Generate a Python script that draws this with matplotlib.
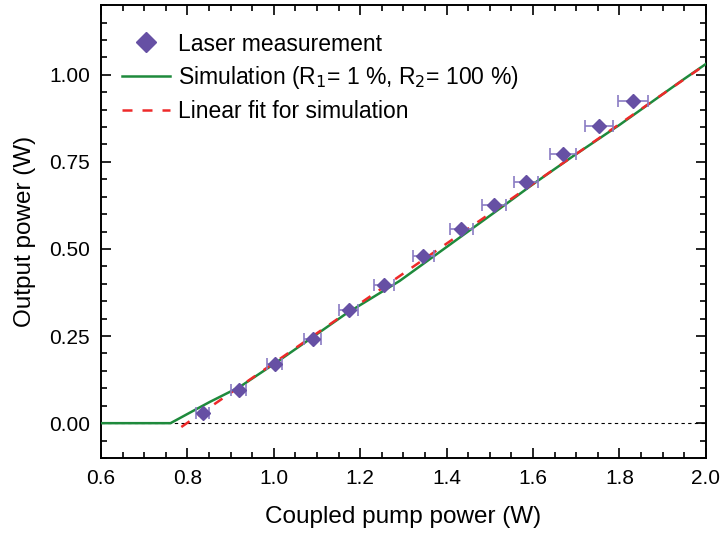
import matplotlib
matplotlib.use("Agg")
import matplotlib.pyplot as plt
from matplotlib.ticker import MultipleLocator, FormatStrFormatter

plt.rcParams['font.family'] = ['Liberation Sans', 'DejaVu Sans']

# Laser measurement data
meas_x = [0.836, 0.919, 1.002, 1.090, 1.173, 1.256, 1.346, 1.434, 1.510, 1.584, 1.670, 1.753, 1.831]
meas_y = [0.029, 0.095, 0.169, 0.241, 0.324, 0.398, 0.479, 0.556, 0.625, 0.691, 0.774, 0.854, 0.926]
meas_xerr = [0.015, 0.017, 0.018, 0.020, 0.021, 0.023, 0.024, 0.026, 0.027, 0.028, 0.030, 0.032, 0.034]

# Simulation (R1 = 1 %, R2 = 100 %)
sim_x = [0.6, 0.761, 0.813, 0.852, 0.921, 1.002, 1.090, 1.167, 1.291, 1.368, 1.522, 1.600, 1.691, 1.800, 1.944, 2.0]
sim_y = [0.0, 0.0, 0.035, 0.061, 0.104, 0.171, 0.247, 0.314, 0.408, 0.477, 0.615, 0.686, 0.765, 0.856, 0.983, 1.031]

# Linear fit for simulation (endpoints)
fit_x = [0.786, 2.0]
fit_y = [-0.011, 1.030]

fig = plt.figure(figsize=(7.21, 5.36), dpi=100)
ax = fig.add_axes([0.140, 0.1455, 0.839, 0.845])

ax.axhline(0, color='black', lw=0.8, ls=(0, (3, 3)), zorder=1)
ax.plot(sim_x, sim_y, color='#1e8a3c', lw=1.8, label='Simulation (R$_1$= 1 %, R$_2$= 100 %)', zorder=3)
ax.plot(fit_x, fit_y, color='#ee2a2a', lw=1.8, ls=(0, (4, 4)), label='Linear fit for simulation', zorder=4)
ax.errorbar(meas_x, meas_y, xerr=meas_xerr, fmt='none', ecolor='#8a7cc4', elinewidth=1.2,
            capsize=4.5, capthick=1.2, zorder=5)
ax.plot(meas_x, meas_y, 'D', color='#6650a4', ms=7, ls='none', label='Laser measurement', zorder=6)

ax.set_xlim(0.6, 2.0)
ax.set_ylim(-0.1, 1.2)
ax.xaxis.set_major_locator(MultipleLocator(0.2))
ax.xaxis.set_minor_locator(MultipleLocator(0.05))
ax.yaxis.set_major_locator(MultipleLocator(0.25))
ax.yaxis.set_minor_locator(MultipleLocator(0.05))
ax.xaxis.set_major_formatter(FormatStrFormatter('%.1f'))
ax.yaxis.set_major_formatter(FormatStrFormatter('%.2f'))
ax.set_yticks([0.0, 0.25, 0.5, 0.75, 1.0])

ax.tick_params(which='both', direction='in', top=True, right=True, labelsize=15, width=1.2)
ax.tick_params(which='major', length=7)
ax.tick_params(which='minor', length=4)
ax.tick_params(axis='x', pad=8)
ax.tick_params(axis='y', pad=8)
for s in ax.spines.values():
    s.set_linewidth(1.4)

ax.set_xlabel('Coupled pump power (W)', fontsize=17.5, labelpad=13)
ax.set_ylabel('Output power (W)', fontsize=17.5, labelpad=9)

handles, labels = ax.get_legend_handles_labels()
order = [2, 0, 1]
ax.legend([handles[i] for i in order], [labels[i] for i in order], loc='upper left',
          frameon=False, fontsize=16.5, markerscale=1.5, handlelength=2.1,
          handletextpad=0.35, labelspacing=0.38, borderaxespad=0.5,
          bbox_to_anchor=(0.0, 0.985))

fig.savefig('out.png', dpi=100)
